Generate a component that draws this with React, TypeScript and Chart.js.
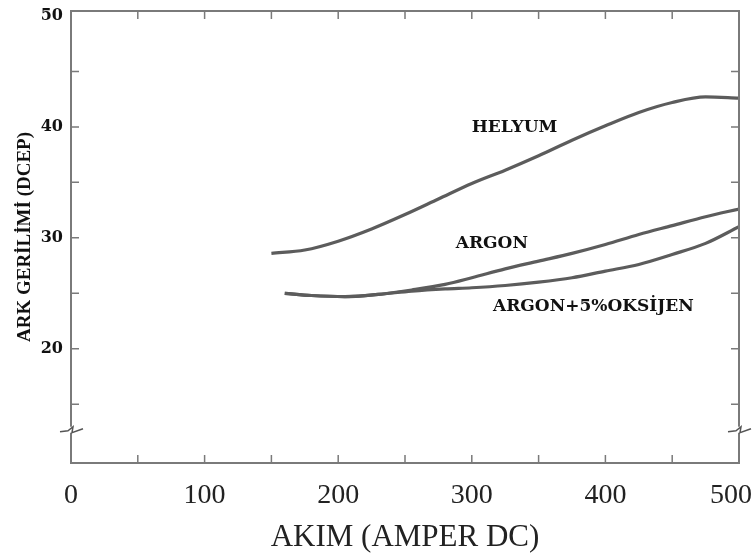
import React, { useEffect, useRef } from "react";
import { Chart, registerables } from "chart.js";

Chart.register(...registerables);

// ---- data ----
const heliumAmps = [150, 175, 200, 225, 250, 275, 300, 325, 350, 375, 400, 425, 450, 475, 500];
const heliumVolts = [28.6, 28.9, 29.7, 30.8, 32.1, 33.5, 34.9, 36.1, 37.4, 38.8, 40.1, 41.3, 42.2, 42.7, 42.6];

const argonAmps = [160, 180, 205, 230, 255, 280, 300, 325, 350, 375, 400, 425, 450, 475, 500];
const argonVolts = [25.0, 24.8, 24.7, 24.9, 25.3, 25.8, 26.4, 27.2, 27.9, 28.6, 29.4, 30.3, 31.1, 31.9, 32.6];

const oxygenAmps = [160, 180, 205, 230, 255, 280, 300, 325, 350, 375, 400, 425, 450, 475, 500];
const oxygenVolts = [25.0, 24.8, 24.7, 24.9, 25.2, 25.4, 25.5, 25.7, 26.0, 26.4, 27.0, 27.6, 28.5, 29.5, 31.0];

const curveNames = ["HELYUM", "ARGON", "ARGON+5%OKSİJEN"];
const labelAmps = [332, 315, 391];
const labelVolts = [39.9, 29.5, 23.8];

const yTickValues = [15, 20, 25, 30, 35, 40, 45, 50];
const yLabelValues = [20, 30, 40, 50];
const xLabelValues = [0, 100, 200, 300, 400, 500];
const breakVolt = 12.7;

const xTitle = "AKIM (AMPER DC)";
const yTitle = "ARK GERİLİMİ (DCEP)";

const LINE = "#5c5c5c";
const FRAME = "#7a7a7a";

const toPts = (xs: number[], ys: number[]) => xs.map((x, i) => ({ x, y: ys[i] }));

const decorPlugin = {
  id: "decor",
  afterDatasetsDraw(chart: any) {
    const { ctx, chartArea, scales } = chart;
    const xs = scales.x;
    const ys = scales.y;
    const { left, right, top, bottom } = chartArea;
    ctx.save();
    // frame top & right
    ctx.strokeStyle = FRAME;
    ctx.lineWidth = 2;
    ctx.beginPath();
    ctx.moveTo(left, top);
    ctx.lineTo(right, top);
    ctx.lineTo(right, bottom);
    ctx.stroke();
    // inward ticks
    ctx.lineWidth = 1.5;
    const tl = 8;
    xs.ticks.forEach((t: any) => {
      if (t.value <= xs.min || t.value >= xs.max) return;
      const px = xs.getPixelForValue(t.value);
      ctx.beginPath();
      ctx.moveTo(px, bottom);
      ctx.lineTo(px, bottom - tl);
      ctx.moveTo(px, top);
      ctx.lineTo(px, top + tl);
      ctx.stroke();
    });
    ys.ticks.forEach((t: any) => {
      if (t.value >= 50) return;
      const py = ys.getPixelForValue(t.value);
      ctx.beginPath();
      ctx.moveTo(left, py);
      ctx.lineTo(left + tl, py);
      ctx.moveTo(right, py);
      ctx.lineTo(right - tl, py);
      ctx.stroke();
    });
    // axis breaks
    const by = ys.getPixelForValue(breakVolt);
    ctx.lineWidth = 1.5;
    ctx.strokeStyle = "#555";
    [left, right].forEach((ax) => {
      ctx.fillStyle = "#fff";
      ctx.fillRect(ax - 3, by - 3, 6, 6);
      ctx.beginPath();
      ctx.moveTo(ax - 11, by + 2);
      ctx.lineTo(ax - 3, by + 1);
      ctx.lineTo(ax + 2, by - 3);
      ctx.lineTo(ax + 1, by + 3);
      ctx.lineTo(ax + 12, by - 1);
      ctx.stroke();
    });
    // x tick labels (kept inside the canvas)
    ctx.fillStyle = "#222";
    ctx.font = "28px 'Liberation Serif', serif";
    ctx.textAlign = "center";
    ctx.textBaseline = "middle";
    xs.ticks.forEach((t: any) => {
      if (!xLabelValues.includes(t.value)) return;
      const txt = String(t.value);
      const w = ctx.measureText(txt).width;
      let cx = xs.getPixelForValue(t.value);
      if (cx + w / 2 > chart.width - 4) cx = chart.width - 4 - w / 2;
      ctx.fillText(txt, cx, bottom + 33);
    });
    // curve labels
    ctx.fillStyle = "#111";
    ctx.font = "bold 17px 'DejaVu Serif', serif";
    curveNames.forEach((name, i) => {
      ctx.fillText(name, xs.getPixelForValue(labelAmps[i]), ys.getPixelForValue(labelVolts[i]));
    });
    ctx.restore();
  },
};

export default function App() {
  const ref = useRef<HTMLCanvasElement | null>(null);
  useEffect(() => {
    if (!ref.current) return;
    const lineStyle = {
      borderColor: LINE,
      borderWidth: 3.2,
      pointRadius: 0,
      showLine: true,
      fill: false,
      cubicInterpolationMode: "monotone" as const,
    };
    const chart = new Chart(ref.current, {
      type: "scatter",
      data: {
        datasets: [
          { label: curveNames[0], data: toPts(heliumAmps, heliumVolts), ...lineStyle },
          { label: curveNames[1], data: toPts(argonAmps, argonVolts), ...lineStyle },
          { label: curveNames[2], data: toPts(oxygenAmps, oxygenVolts), ...lineStyle },
        ],
      },
      options: {
        animation: false,
        responsive: true,
        maintainAspectRatio: false,
        layout: { padding: { left: 0, right: 17, top: 11, bottom: 0 } },
        plugins: { legend: { display: false }, tooltip: { enabled: false } },
        scales: {
          x: {
            type: "linear",
            min: 0,
            max: 500,
            grid: { display: false, drawTicks: false },
            border: { display: true, color: FRAME, width: 2 },
            ticks: {
              display: false,
              stepSize: 50,
              autoSkip: false,
            },
            title: {
              display: true,
              text: xTitle,
              color: "#222",
              font: { family: "'Liberation Serif', serif", size: 31 },
              padding: { top: 0, bottom: 1 },
            },
            afterFit: (s: any) => {
              s.height = 94;
              s.paddingLeft = 0;
              s.paddingRight = 0;
            },
          },
          y: {
            type: "linear",
            min: 9.7,
            max: 50.45,
            grid: { display: false, drawTicks: false },
            border: { display: true, color: FRAME, width: 2 },
            afterBuildTicks: (s: any) => {
              s.ticks = yTickValues.map((v) => ({ value: v }));
            },
            ticks: {
              padding: 8,
              color: "#111",
              autoSkip: false,
              font: { family: "'DejaVu Serif', serif", size: 16, weight: "bold" },
              callback: (v: any) => (yLabelValues.includes(Number(v)) ? String(v) : ""),
            },
            title: {
              display: true,
              text: yTitle,
              color: "#111",
              font: { family: "'Liberation Serif', serif", size: 19, weight: "bold" },
              padding: { top: 14, bottom: 0 },
            },
            afterFit: (s: any) => {
              s.width = 71;
              s.paddingTop = 0;
              s.paddingBottom = 0;
            },
          },
        },
      },
      plugins: [decorPlugin],
    });
    return () => chart.destroy();
  }, []);
  return (
    <div style={{ position: "absolute", left: 0, top: 0, width: 756, height: 557, background: "#fff" }}>
      <canvas ref={ref} />
    </div>
  );
}
